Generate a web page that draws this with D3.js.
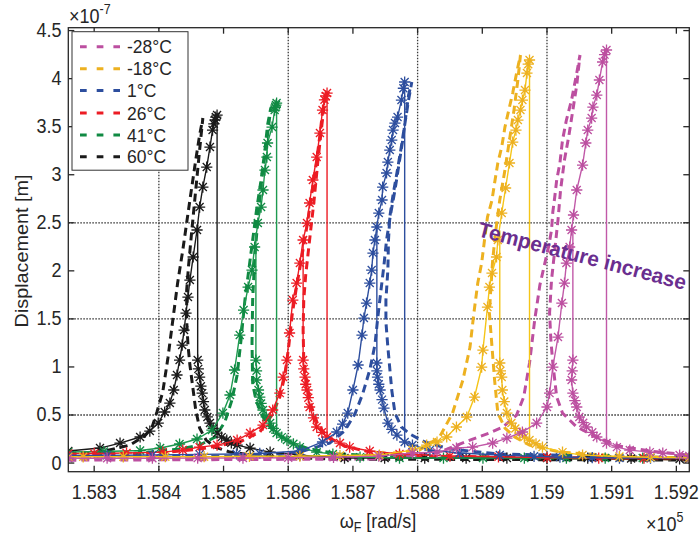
<!DOCTYPE html>
<html>
<head>
<meta charset="utf-8">
<script src="https://cdn.jsdelivr.net/npm/d3@7"></script>
<style>
  body { margin: 0; background: #fff; }
  svg { display: block; }
  text { font-family: "Liberation Sans", Arial, Helvetica, sans-serif; fill: #262626; }
</style>
</head>
<body>
<svg id="chart" width="699" height="537"></svg>
<script>
// ---- axis ticks ----
const xTicks = [1.583, 1.584, 1.585, 1.586, 1.587, 1.588, 1.589, 1.590, 1.591, 1.592];
const xTickLabels = ["1.583", "1.584", "1.585", "1.586", "1.587", "1.588", "1.589", "1.59", "1.591", "1.592"];
const yTicks = [0, 0.5, 1, 1.5, 2, 2.5, 3, 3.5, 4, 4.5];
const yTickLabels = ["0", "0.5", "1", "1.5", "2", "2.5", "3", "3.5", "4", "4.5"];
const xGrid = [1.584, 1.586, 1.588, 1.590];
const yGrid = [0.5, 1.5, 2.5];

// ---- legend ----
const temperatures = ["-28°C", "-18°C", "1°C", "26°C", "41°C", "60°C"];

// ---- frequency response, x in 1e5 rad/s, y in 1e-7 m ----
// upUp: upper (resonant) branch swept upward; low: lower branch after the jump
// jumpDown / jumpUp: [x, yFrom, yTo]

// -28 °C
const m28Up = [[1.58260,0.050],[1.58320,0.050],[1.58390,0.050],[1.58460,0.051],[1.58530,0.052],[1.58600,0.055],[1.58670,0.060],[1.58740,0.072],[1.58792,0.104],[1.58830,0.114],[1.58860,0.156],[1.58885,0.166],[1.58916,0.208],[1.58938,0.260],[1.58962,0.323],[1.58984,0.416],[1.59000,0.583],[1.59004,0.728],[1.59009,0.999],[1.59017,1.311],[1.59023,1.665],[1.59027,1.873],[1.59030,2.081],[1.59035,2.248],[1.59038,2.425],[1.59041,2.581],[1.59046,2.841],[1.59055,3.101],[1.59060,3.330],[1.59063,3.465],[1.59069,3.590],[1.59071,3.704],[1.59077,3.829],[1.59081,3.986],[1.59086,4.173],[1.59089,4.250],[1.59092,4.298]];
const m28Low = [[1.59040,1.072],[1.59039,0.960],[1.59038,0.864],[1.59040,0.728],[1.59043,0.650],[1.59046,0.583],[1.59050,0.479],[1.59056,0.420],[1.59061,0.375],[1.59070,0.320],[1.59077,0.271],[1.59092,0.208],[1.59108,0.166],[1.59128,0.135],[1.59159,0.114],[1.59179,0.104],[1.59205,0.083],[1.59220,0.073]];
const m28Dash = [[1.58260,0.030],[1.58741,0.042],[1.58834,0.114],[1.58881,0.239],[1.58911,0.312],[1.58932,0.375],[1.58953,0.500],[1.58964,0.687],[1.58973,1.041],[1.58981,1.488],[1.58989,1.852],[1.58996,2.060],[1.59003,2.268],[1.59007,2.425],[1.59009,2.612],[1.59012,2.768],[1.59015,2.945],[1.59020,3.122],[1.59024,3.361],[1.59030,3.569],[1.59038,3.777],[1.59046,4.058],[1.59051,4.246],[1.59046,3.933],[1.59040,3.673],[1.59034,3.413],[1.59027,3.153],[1.59021,2.841],[1.59017,2.529],[1.59012,2.216],[1.59007,1.904],[1.59004,1.561],[1.59006,1.280],[1.59009,1.041],[1.59015,0.687],[1.59024,0.520],[1.59046,0.375],[1.59077,0.271],[1.59112,0.177],[1.59159,0.125],[1.59220,0.083]];
const m28JumpDown = [1.59092, 4.298, 0.208];
const m28JumpUp = [1.59040, 1.072, 2.45];

// -18 °C
const m18Up = [[1.58260,0.065],[1.58283,0.065],[1.58345,0.065],[1.58410,0.066],[1.58470,0.066],[1.58540,0.070],[1.58618,0.072],[1.58680,0.078],[1.58741,0.083],[1.58792,0.135],[1.58814,0.187],[1.58830,0.219],[1.58845,0.271],[1.58860,0.375],[1.58876,0.479],[1.58888,0.687],[1.58899,0.999],[1.58901,1.176],[1.58908,1.623],[1.58911,1.831],[1.58915,1.977],[1.58922,2.144],[1.58924,2.321],[1.58930,2.601],[1.58936,2.862],[1.58942,3.122],[1.58947,3.340],[1.58952,3.465],[1.58955,3.569],[1.58959,3.673],[1.58962,3.777],[1.58966,3.881],[1.58969,4.058],[1.58971,4.150],[1.58973,4.194]];
const m18Low = [[1.58927,1.041],[1.58928,0.960],[1.58930,0.895],[1.58931,0.760],[1.58934,0.640],[1.58938,0.520],[1.58945,0.416],[1.58951,0.360],[1.58958,0.312],[1.58965,0.270],[1.58973,0.239],[1.58983,0.200],[1.58993,0.166],[1.59024,0.114],[1.59055,0.083],[1.59112,0.068],[1.59160,0.060],[1.59220,0.055]];
const m18Dash = [[1.58260,0.045],[1.58695,0.052],[1.58803,0.135],[1.58834,0.271],[1.58854,0.520],[1.58870,0.864],[1.58881,1.207],[1.58887,1.561],[1.58893,1.873],[1.58899,2.081],[1.58904,2.352],[1.58908,2.560],[1.58915,2.737],[1.58919,2.914],[1.58924,3.122],[1.58930,3.288],[1.58935,3.496],[1.58942,3.704],[1.58947,3.850],[1.58953,4.058],[1.58959,4.246],[1.58955,3.986],[1.58949,3.673],[1.58942,3.361],[1.58935,3.049],[1.58927,2.737],[1.58921,2.425],[1.58916,2.112],[1.58913,1.800],[1.58911,1.561],[1.58915,1.207],[1.58919,0.864],[1.58924,0.520],[1.58935,0.364],[1.58950,0.271],[1.58973,0.187],[1.59020,0.114],[1.59112,0.073],[1.59220,0.052]];
const m18JumpDown = [1.58973, 4.194, 0.239];
const m18JumpUp = [1.58927, 1.041, 2.42];

// 1 °C
const p1Up = [[1.58260,0.080],[1.58320,0.080],[1.58390,0.083],[1.58463,0.090],[1.58520,0.094],[1.58556,0.100],[1.58618,0.125],[1.58653,0.219],[1.58675,0.323],[1.58684,0.406],[1.58692,0.520],[1.58700,0.760],[1.58708,1.020],[1.58714,1.332],[1.58717,1.509],[1.58721,1.665],[1.58726,1.873],[1.58729,2.008],[1.58731,2.185],[1.58734,2.321],[1.58737,2.456],[1.58740,2.601],[1.58745,2.737],[1.58746,2.872],[1.58752,3.018],[1.58754,3.132],[1.58757,3.257],[1.58760,3.361],[1.58762,3.465],[1.58765,3.538],[1.58769,3.600],[1.58775,3.777],[1.58778,3.900],[1.58780,3.965]];
const p1Low = [[1.58737,1.041],[1.58737,0.960],[1.58738,0.895],[1.58740,0.820],[1.58742,0.760],[1.58745,0.660],[1.58748,0.572],[1.58754,0.416],[1.58760,0.350],[1.58768,0.291],[1.58780,0.219],[1.58792,0.187],[1.58819,0.135],[1.58865,0.104],[1.58927,0.083],[1.58980,0.070],[1.59020,0.062],[1.59070,0.057],[1.59112,0.052],[1.59160,0.052],[1.59220,0.052]];
const p1Dash = [[1.58260,0.062],[1.58541,0.073],[1.58618,0.114],[1.58664,0.208],[1.58687,0.333],[1.58703,0.510],[1.58715,0.718],[1.58726,0.968],[1.58734,1.228],[1.58738,1.488],[1.58743,1.779],[1.58748,2.060],[1.58752,2.321],[1.58758,2.581],[1.58765,2.841],[1.58771,3.101],[1.58777,3.361],[1.58782,3.621],[1.58786,3.829],[1.58791,3.965],[1.58786,3.777],[1.58780,3.517],[1.58774,3.257],[1.58768,3.018],[1.58762,2.789],[1.58757,2.560],[1.58755,2.321],[1.58754,2.008],[1.58751,1.696],[1.58751,1.467],[1.58754,1.207],[1.58760,0.760],[1.58765,0.520],[1.58775,0.375],[1.58788,0.302],[1.58811,0.219],[1.58850,0.146],[1.58927,0.094],[1.59220,0.052]];
const p1JumpDown = [1.58780, 3.965, 0.219];
const p1JumpUp = [1.58737, 1.041, 2.456];

// 26 °C
const p26Up = [[1.58260,0.100],[1.58300,0.100],[1.58350,0.105],[1.58406,0.114],[1.58437,0.135],[1.58463,0.166],[1.58490,0.187],[1.58521,0.239],[1.58541,0.312],[1.58561,0.395],[1.58576,0.552],[1.58587,0.728],[1.58592,0.895],[1.58598,1.072],[1.58602,1.353],[1.58607,1.696],[1.58613,1.873],[1.58618,2.081],[1.58623,2.321],[1.58629,2.497],[1.58633,2.706],[1.58638,2.945],[1.58644,3.184],[1.58649,3.434],[1.58653,3.673],[1.58656,3.780],[1.58658,3.820],[1.58660,3.850]];
const p26Low = [[1.58623,1.072],[1.58624,0.980],[1.58626,0.895],[1.58627,0.820],[1.58629,0.760],[1.58631,0.680],[1.58633,0.583],[1.58639,0.470],[1.58644,0.375],[1.58652,0.320],[1.58660,0.271],[1.58680,0.208],[1.58695,0.166],[1.58726,0.125],[1.58772,0.094],[1.58850,0.073],[1.58925,0.065],[1.59000,0.058],[1.59080,0.052],[1.59150,0.050],[1.59220,0.048]];
const p26Dash = [[1.58260,0.080],[1.58386,0.094],[1.58463,0.146],[1.58525,0.219],[1.58556,0.323],[1.58575,0.500],[1.58587,0.687],[1.58595,0.916],[1.58601,1.228],[1.58606,1.540],[1.58612,1.800],[1.58618,2.029],[1.58624,2.268],[1.58630,2.508],[1.58636,2.789],[1.58643,3.101],[1.58649,3.413],[1.58653,3.652],[1.58657,3.798],[1.58652,3.517],[1.58646,3.153],[1.58640,2.737],[1.58633,2.321],[1.58627,1.956],[1.58624,1.696],[1.58623,1.384],[1.58624,1.072],[1.58629,0.812],[1.58635,0.604],[1.58646,0.395],[1.58661,0.271],[1.58687,0.177],[1.58726,0.114],[1.58803,0.073],[1.59220,0.042]];
const p26JumpDown = [1.58660, 3.850, 0.271];
const p26JumpUp = [1.58623, 1.072, 2.32];

// 41 °C
const p41Up = [[1.58260,0.115],[1.58315,0.120],[1.58371,0.130],[1.58402,0.156],[1.58432,0.198],[1.58459,0.250],[1.58482,0.343],[1.58499,0.520],[1.58510,0.708],[1.58517,0.968],[1.58525,1.332],[1.58531,1.592],[1.58538,1.831],[1.58544,2.008],[1.58548,2.248],[1.58553,2.497],[1.58558,2.664],[1.58561,2.841],[1.58564,3.049],[1.58567,3.184],[1.58568,3.330],[1.58575,3.496],[1.58579,3.673],[1.58580,3.700],[1.58581,3.725],[1.58582,3.746]];
const p41Low = [[1.58550,1.072],[1.58551,0.960],[1.58551,0.864],[1.58554,0.760],[1.58556,0.687],[1.58558,0.620],[1.58561,0.552],[1.58566,0.480],[1.58572,0.416],[1.58577,0.360],[1.58582,0.312],[1.58590,0.270],[1.58598,0.239],[1.58608,0.200],[1.58618,0.166],[1.58644,0.114],[1.58669,0.094],[1.58711,0.062],[1.58772,0.052],[1.58840,0.052],[1.58901,0.052],[1.58965,0.052],[1.59030,0.052],[1.59090,0.052],[1.59148,0.052],[1.59220,0.052]];
const p41Dash = [[1.58260,0.095],[1.58371,0.104],[1.58432,0.146],[1.58463,0.187],[1.58487,0.271],[1.58502,0.427],[1.58513,0.656],[1.58521,0.916],[1.58527,1.280],[1.58533,1.696],[1.58539,2.008],[1.58545,2.320],[1.58551,2.633],[1.58558,2.945],[1.58564,3.257],[1.58568,3.517],[1.58573,3.694],[1.58567,3.361],[1.58559,2.945],[1.58553,2.529],[1.58548,2.112],[1.58545,1.696],[1.58544,1.249],[1.58545,0.832],[1.58550,0.656],[1.58556,0.552],[1.58565,0.427],[1.58579,0.323],[1.58602,0.219],[1.58633,0.146],[1.58680,0.094],[1.58772,0.062],[1.59220,0.042]];
const p41JumpDown = [1.58582, 3.746, 0.312];
const p41JumpUp = [1.58550, 1.072, 2.40];

// 60 °C
const p60Up = [[1.58260,0.125],[1.58309,0.156],[1.58340,0.208],[1.58371,0.271],[1.58386,0.333],[1.58399,0.416],[1.58409,0.531],[1.58417,0.624],[1.58423,0.760],[1.58428,0.916],[1.58432,1.072],[1.58436,1.228],[1.58439,1.384],[1.58442,1.561],[1.58445,1.727],[1.58448,1.904],[1.58453,2.144],[1.58459,2.425],[1.58463,2.664],[1.58468,2.872],[1.58474,3.080],[1.58479,3.288],[1.58483,3.465],[1.58485,3.530],[1.58487,3.570],[1.58488,3.600],[1.58490,3.621]];
const p60Low = [[1.58460,1.072],[1.58461,0.980],[1.58463,0.895],[1.58465,0.800],[1.58467,0.728],[1.58469,0.640],[1.58471,0.552],[1.58475,0.480],[1.58479,0.416],[1.58484,0.360],[1.58490,0.312],[1.58497,0.270],[1.58505,0.239],[1.58512,0.210],[1.58521,0.187],[1.58541,0.156],[1.58572,0.114],[1.58618,0.083],[1.58687,0.052],[1.58749,0.052],[1.58811,0.052],[1.58875,0.052],[1.58938,0.052],[1.59000,0.052],[1.59063,0.052],[1.59130,0.048],[1.59205,0.042]];
const p60Dash = [[1.58260,0.100],[1.58309,0.114],[1.58355,0.187],[1.58378,0.281],[1.58389,0.364],[1.58397,0.531],[1.58406,0.739],[1.58414,1.093],[1.58422,1.509],[1.58429,1.873],[1.58437,2.216],[1.58448,2.737],[1.58457,3.153],[1.58463,3.413],[1.58468,3.590],[1.58463,3.257],[1.58457,2.841],[1.58451,2.425],[1.58446,2.060],[1.58443,1.800],[1.58443,1.488],[1.58445,1.228],[1.58448,1.020],[1.58453,0.760],[1.58457,0.552],[1.58463,0.364],[1.58473,0.239],[1.58487,0.166],[1.58510,0.114],[1.58556,0.073],[1.58664,0.042],[1.59220,0.031]];
const p60JumpDown = [1.58490, 3.621, 0.312];
const p60JumpUp = [1.58460, 1.072, 2.48];

const seriesColors = ["#BC4FA0", "#EDB120", "#2D4E9E", "#EC1C24", "#108A43", "#1A1A1A"];
const solidColors  = ["#C159A8", "#F5C518", "#2D4E9E", "#EC1C24", "#1E9A50", "#1A1A1A"];

const series = [
  { name: temperatures[0], up: m28Up, low: m28Low, dash: m28Dash, jd: m28JumpDown, ju: m28JumpUp, color: seriesColors[0], solid: solidColors[0] },
  { name: temperatures[1], up: m18Up, low: m18Low, dash: m18Dash, jd: m18JumpDown, ju: m18JumpUp, color: seriesColors[1], solid: solidColors[1] },
  { name: temperatures[2], up: p1Up,  low: p1Low,  dash: p1Dash,  jd: p1JumpDown,  ju: p1JumpUp,  color: seriesColors[2], solid: solidColors[2] },
  { name: temperatures[3], up: p26Up, low: p26Low, dash: p26Dash, jd: p26JumpDown, ju: p26JumpUp, color: seriesColors[3], solid: solidColors[3] },
  { name: temperatures[4], up: p41Up, low: p41Low, dash: p41Dash, jd: p41JumpDown, ju: p41JumpUp, color: seriesColors[4], solid: solidColors[4] },
  { name: temperatures[5], up: p60Up, low: p60Low, dash: p60Dash, jd: p60JumpDown, ju: p60JumpUp, color: seriesColors[5], solid: solidColors[5] }
];

// ---- layout ----
const plot = { left: 68.3, right: 689.3, top: 27.7, bottom: 471.7 };
const x = d3.scaleLinear().domain([1.5826, 1.5922]).range([plot.left, plot.right]);
const y = d3.scaleLinear().domain([-0.09, 4.53]).range([plot.bottom, plot.top]);

const svg = d3.select("#chart");
const ink = "#262626";

svg.append("defs").append("clipPath").attr("id", "plotClip")
  .append("rect")
  .attr("x", plot.left).attr("y", plot.top)
  .attr("width", plot.right - plot.left).attr("height", plot.bottom - plot.top);

// white plot background
svg.append("rect")
  .attr("x", plot.left).attr("y", plot.top)
  .attr("width", plot.right - plot.left).attr("height", plot.bottom - plot.top)
  .attr("fill", "#fff");

// dotted grid
const grid = svg.append("g").attr("stroke", "#3a3a3a").attr("stroke-width", 1.3)
  .attr("stroke-dasharray", "1.6,1.4").attr("fill", "none");
grid.selectAll("line.gx").data(xGrid).join("line")
  .attr("x1", d => x(d)).attr("x2", d => x(d))
  .attr("y1", plot.top).attr("y2", plot.bottom);
grid.selectAll("line.gy").data(yGrid).join("line")
  .attr("x1", plot.left).attr("x2", plot.right)
  .attr("y1", d => y(d)).attr("y2", d => y(d));

const lineGen = d3.line().x(d => x(d[0])).y(d => y(d[1]));
const plotArea = svg.append("g").attr("clip-path", "url(#plotClip)");

// asterisk marker (plus + cross)
const r = 5.6, dd = 4.0;
const asterisk = `M${-r},0L${r},0M0,${-r}L0,${r}M${-dd},${-dd}L${dd},${dd}M${-dd},${dd}L${dd},${-dd}`;

// dashed model curves first
const drawOrder = [5, 4, 3, 2, 1, 0];
drawOrder.forEach(i => {
  const s = series[i];
  plotArea.append("path")
    .attr("d", lineGen(s.dash))
    .attr("fill", "none")
    .attr("stroke", s.color)
    .attr("stroke-width", 3)
    .attr("stroke-dasharray", "8,5");
});

// simulated sweeps with jumps and markers
drawOrder.forEach(i => {
  const s = series[i];
  const g = plotArea.append("g");
  [s.up, s.low].forEach(branch => {
    g.append("path")
      .attr("d", lineGen(branch))
      .attr("fill", "none")
      .attr("stroke", s.solid)
      .attr("stroke-width", 1.4);
  });
  [s.jd, s.ju].forEach(j => {
    g.append("line")
      .attr("x1", x(j[0])).attr("x2", x(j[0]))
      .attr("y1", y(j[1])).attr("y2", y(j[2]))
      .attr("stroke", s.solid)
      .attr("stroke-width", 1.4);
  });
  g.selectAll("path.mk").data(s.up.concat(s.low)).join("path")
    .attr("class", "mk")
    .attr("transform", d => `translate(${x(d[0])},${y(d[1])})`)
    .attr("d", asterisk)
    .attr("fill", "none")
    .attr("stroke", s.color)
    .attr("stroke-width", 1.3);
});

// axes box with inward ticks
const axes = svg.append("g").attr("stroke", ink).attr("stroke-width", 1.3).attr("fill", "none");
axes.append("rect")
  .attr("x", plot.left).attr("y", plot.top)
  .attr("width", plot.right - plot.left).attr("height", plot.bottom - plot.top);
const tl = 6;
xTicks.forEach(t => {
  axes.append("line").attr("x1", x(t)).attr("x2", x(t)).attr("y1", plot.bottom).attr("y2", plot.bottom - tl);
  axes.append("line").attr("x1", x(t)).attr("x2", x(t)).attr("y1", plot.top).attr("y2", plot.top + tl);
});
yTicks.forEach(t => {
  axes.append("line").attr("x1", plot.left).attr("x2", plot.left + tl).attr("y1", y(t)).attr("y2", y(t));
  axes.append("line").attr("x1", plot.right).attr("x2", plot.right - tl).attr("y1", y(t)).attr("y2", y(t));
});

// text helper: slightly tall glyphs
function label(parent, px, py, str, anchor, size) {
  return parent.append("text")
    .attr("transform", `translate(${px},${py}) scale(1,1.1)`)
    .attr("text-anchor", anchor)
    .attr("font-size", size)
    .text(str);
}

const labels = svg.append("g");
xTicks.forEach((t, i) => label(labels, x(t), 498.5, xTickLabels[i], "middle", 18));
yTicks.forEach((t, i) => label(labels, 61.5, y(t) + 6.5, yTickLabels[i], "end", 18));

// exponent markers
const e1 = labels.append("text").attr("transform", "translate(69,23) scale(1,1.1)").attr("font-size", 18);
e1.append("tspan").text("×10");
e1.append("tspan").attr("font-size", 12.5).attr("dy", -8).text("-7");
const e2 = labels.append("text").attr("transform", "translate(646,531) scale(1,1.1)").attr("font-size", 18);
e2.append("tspan").text("×10");
e2.append("tspan").attr("font-size", 12.5).attr("dy", -8).text("5");

// axis titles
const xt = labels.append("text").attr("transform", "translate(378,528) scale(1,1.1)")
  .attr("text-anchor", "middle").attr("font-size", 18);
xt.append("tspan").text("ω");
xt.append("tspan").attr("font-size", 12.5).attr("dy", 4).text("F");
xt.append("tspan").attr("dy", -4).text(" [rad/s]");

labels.append("text")
  .attr("transform", "translate(28,251) rotate(-90) scale(1.1,1)")
  .attr("text-anchor", "middle").attr("font-size", 18)
  .text("Displacement [m]");

// annotation
svg.append("text")
  .attr("transform", "translate(477,236) rotate(14.6)")
  .attr("font-family", "Lato, 'Open Sans', sans-serif")
  .attr("font-weight", "bold")
  .attr("font-size", 21)
  .attr("textLength", 214)
  .attr("lengthAdjust", "spacingAndGlyphs")
  .style("fill", "#6A2E8F")
  .text("Temperature increase");

// legend
const lg = svg.append("g");
lg.append("rect").attr("x", 72).attr("y", 31.7).attr("width", 116).attr("height", 138.5)
  .attr("fill", "#fff").attr("stroke", "#333").attr("stroke-width", 1);
const legendY = [46.7, 68.8, 90.5, 113, 135, 156.7];
series.forEach((s, i) => {
  lg.append("line").attr("x1", 80).attr("x2", 120).attr("y1", legendY[i]).attr("y2", legendY[i])
    .attr("stroke", s.color).attr("stroke-width", 3).attr("stroke-dasharray", "6.7,10");
  label(lg, 127, legendY[i] + 6.5, s.name, "start", 17.5);
});
</script>
</body>
</html>
